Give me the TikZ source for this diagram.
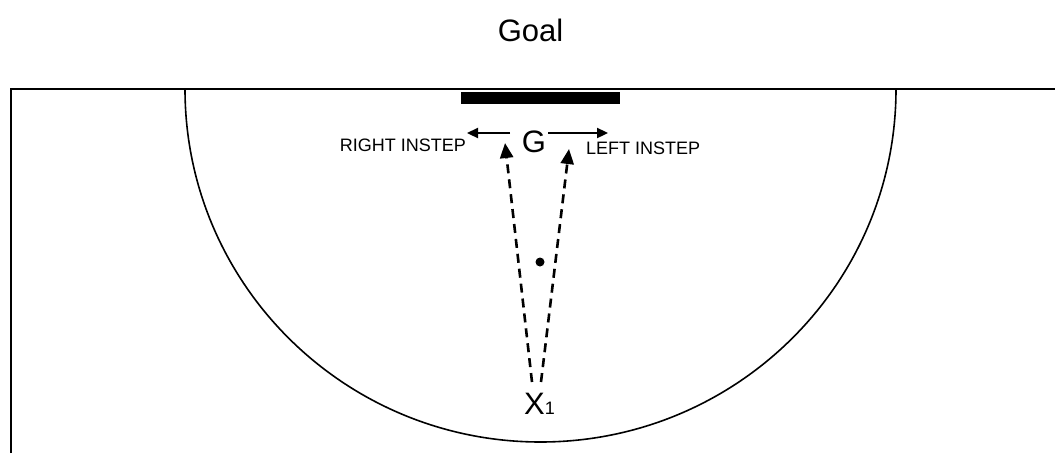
\documentclass[tikz,border=0pt]{standalone}
\usepackage{fontspec}
\setmainfont{Liberation Sans}
\usetikzlibrary{arrows.meta,positioning}

\begin{document}
\begin{tikzpicture}[
        x=1pt,y=-1pt,
        line/.style={line width=1.6pt,draw=black},
        label/.style={inner sep=0pt,font=\fontsize{18}{18}\selectfont},
        big/.style={inner sep=0pt,font=\fontsize{31}{31}\selectfont},
        arrow/.style={-{Triangle[length=11pt,width=10pt]},line width=2.3pt},
        shot/.style={-{Triangle[length=15pt,width=13pt]},line width=2.6pt,dash pattern=on 9pt off 6pt}
      ]
      \useasboundingbox (0,0) rectangle (1055,453);

      % pitch lines and circle
      \draw[line] (11,453) -- (11,89) -- (1055,89);
      \draw[line] (185,89) arc[start angle=180,end angle=360,x radius=355.5,y radius=-353];
      \fill (461,92) rectangle (620,104);

      % labels
      \node[big,anchor=base] (goal) at (530.5,41) {Goal};
      \node[big,anchor=base] (keeper) at (534,152) {G};
      \node[big,anchor=base west] (shooter) at (524,414) {X{\fontsize{18}{18}\selectfont 1}};
      \node[label,anchor=base east] (right) at (466,151) {RIGHT INSTEP};
      \node[label,anchor=base west] (left) at (586,154) {LEFT INSTEP};
      \fill (540,262) circle[radius=4.5pt];

      % instep arrows
      \coordinate (rstart) at (510,133);
      \coordinate (rend) at (467,133);
      \coordinate (lstart) at (548,133);
      \coordinate (lend) at (608,133);
      \draw[arrow] (rstart) -- (rend);
      \draw[arrow] (lstart) -- (lend);

      % shots
      \coordinate (s1) at (532,382);
      \coordinate (s2) at (541,382);
      \coordinate (t1) at (505,143);
      \coordinate (t2) at (569,149);
      \draw[shot] (s1) -- (t1);
      \draw[shot] (s2) -- (t2);
    \end{tikzpicture}
\end{document}
